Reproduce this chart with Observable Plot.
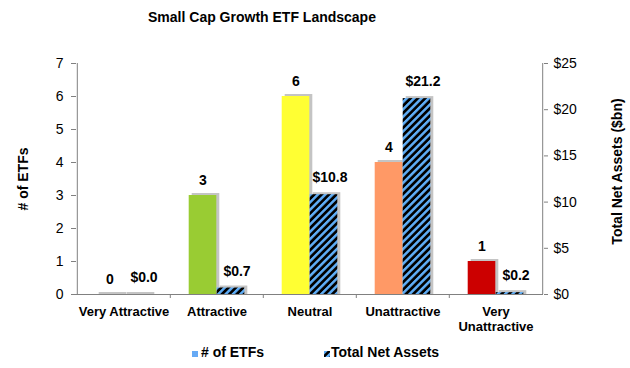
<!DOCTYPE html>
<html><head><meta charset="utf-8">
<script src="https://cdn.jsdelivr.net/npm/d3@7"></script>
<script src="https://cdn.jsdelivr.net/npm/@observablehq/plot@0.6"></script>
<style>
body{margin:0;background:#fff;font-family:Arial,"Liberation Sans",sans-serif;}
#wrap{position:relative;width:630px;height:368px;overflow:hidden;background:#fff;}
#title{position:absolute;left:0;top:8px;width:524px;text-align:center;font-weight:bold;font-size:14px;line-height:18px;color:#000;}
#chart{position:absolute;left:0;top:40px;}
.lg{position:absolute;top:343px;font-weight:bold;font-size:14px;line-height:18px;color:#000;white-space:nowrap;}
.sw{position:absolute;top:351px;width:6px;height:6px;}
</style>
</head><body>
<div id="wrap">
  <div id="title">Small Cap Growth ETF Landscape</div>
  <div id="chart"></div>
  <div class="sw" style="left:192px;background:#66AAF5"></div>
  <div class="lg" style="left:201px" id="lg1"></div>
  <svg class="sw" style="left:324px" width="7" height="7"><rect width="7" height="7" fill="url(#hatch)"/></svg>
  <div class="lg" style="left:331px" id="lg2"></div>
</div>
<script>
const categories = ["Very Attractive","Attractive","Neutral","Unattractive","Very Unattractive"];
const xTickLabels = ["Very Attractive","Attractive","Neutral","Unattractive","Very\nUnattractive"];
const etfCounts = [0,3,6,4,1];
const netAssets = [0.0,0.7,10.8,21.2,0.2];
const ratingColors = ["#00A050","#99CC33","#FFFF33","#FF9966","#CC0000"];
const countTicks = [0,1,2,3,4,5,6,7];
const assetTicks = [0,5,10,15,20,25];
const countMax = 7, assetMax = 25;
const seriesNames = ["# of ETFs","Total Net Assets"];
const leftTitle = "# of ETFs";
const rightTitle = "Total Net Assets ($bn)";

document.getElementById("lg1").textContent = seriesNames[0];
document.getElementById("lg2").textContent = seriesNames[1];

const W=630,H=295,ML=76,MR=87,MT=23,MB=41;
const bw=(W-ML-MR)/categories.length;
const barW=28;
const k=countMax/assetMax;
const rows=categories.map((c,i)=>({cat:c,count:etfCounts[i],assets:netAssets[i],color:ratingColors[i]}));
const font='Arial, "Liberation Sans", sans-serif';
const axisGray="#808080";
const shadow="#c4c4c4";

const chart=Plot.plot({
  width:W,height:H,marginLeft:ML,marginRight:MR,marginTop:MT,marginBottom:MB,
  style:{fontFamily:font,fontSize:"14px",color:"#000",background:"transparent",overflow:"visible"},
  x:{type:"band",domain:categories,padding:0,axis:null},
  y:{domain:[0,countMax],axis:null},
  color:{type:"identity"},
  marks:[
    Plot.barY(rows,{x:"cat",y:"count",fill:()=>shadow,insetLeft:bw/2-barW,insetRight:bw/2,insetTop:-2,dx:3}),
    Plot.barY(rows,{x:"cat",y:d=>d.assets*k,fill:()=>shadow,insetLeft:bw/2,insetRight:bw/2-barW,insetTop:-2,dx:3}),
    Plot.barY(rows,{x:"cat",y:"count",fill:"color",insetLeft:bw/2-barW,insetRight:bw/2}),
    Plot.barY(rows,{x:"cat",y:d=>d.assets*k,fill:()=>"url(#hatch)",insetLeft:bw/2,insetRight:bw/2-barW}),
    Plot.ruleY([0],{stroke:axisGray}),
    Plot.ruleX([categories[0]],{y1:0,y2:countMax,dx:-bw/2,stroke:axisGray}),
    Plot.ruleX([categories[categories.length-1]],{y1:0,y2:countMax,dx:bw/2,stroke:axisGray}),
    Plot.axisY({anchor:"left",ticks:countTicks,tickFormat:d=>String(d),tickSize:5,tickPadding:8,label:null,stroke:axisGray,fill:"#000",fontSize:14}),
    Plot.axisY({anchor:"right",ticks:assetTicks.map(v=>v*k),tickFormat:v=>"$"+Math.round(v/k),tickSize:4,tickPadding:6,label:null,stroke:axisGray,fill:"#000",fontSize:14}),
    Plot.axisX({ticks:categories.slice(1),tickSize:4,dx:-bw/2,tickFormat:()=>"",label:null,stroke:axisGray}),
    Plot.axisX({ticks:categories,tickSize:0,tickPadding:10,tickFormat:d=>xTickLabels[categories.indexOf(d)],fontWeight:"bold",fontSize:13,lineHeight:1.2,label:null,fill:"#000"}),
    Plot.text(rows,{x:"cat",y:"count",text:d=>String(d.count),dx:-barW/2,dy:-15,fontWeight:"bold",fontSize:14,fill:"#000"}),
    Plot.text(rows,{x:"cat",y:d=>d.assets*k,text:d=>"$"+d.assets.toFixed(1),dx:barW/2+6,dy:-17,fontWeight:"bold",fontSize:14,fill:"#000"}),
    Plot.text([leftTitle],{text:d=>d,frameAnchor:"left",textAnchor:"middle",lineAnchor:"middle",dx:-53.3,rotate:-90,fontWeight:"bold",fontSize:14,fill:"#000"}),
    Plot.text([rightTitle],{text:d=>d,frameAnchor:"right",textAnchor:"middle",lineAnchor:"middle",dx:74.5,dy:-7.5,rotate:-90,fontWeight:"bold",fontSize:14,fill:"#000"})
  ]
});
const svg=d3.select(chart);
const defs=svg.insert("defs",":first-child");
const p=defs.append("pattern").attr("id","hatch").attr("patternUnits","userSpaceOnUse")
  .attr("width",5.2).attr("height",5.2).attr("patternTransform","rotate(45)");
p.append("rect").attr("width",5.2).attr("height",5.2).attr("fill","#000");
p.append("rect").attr("width",2.5).attr("height",5.2).attr("fill","#5FAEF8");
document.getElementById("chart").appendChild(chart);
</script>
</body></html>
